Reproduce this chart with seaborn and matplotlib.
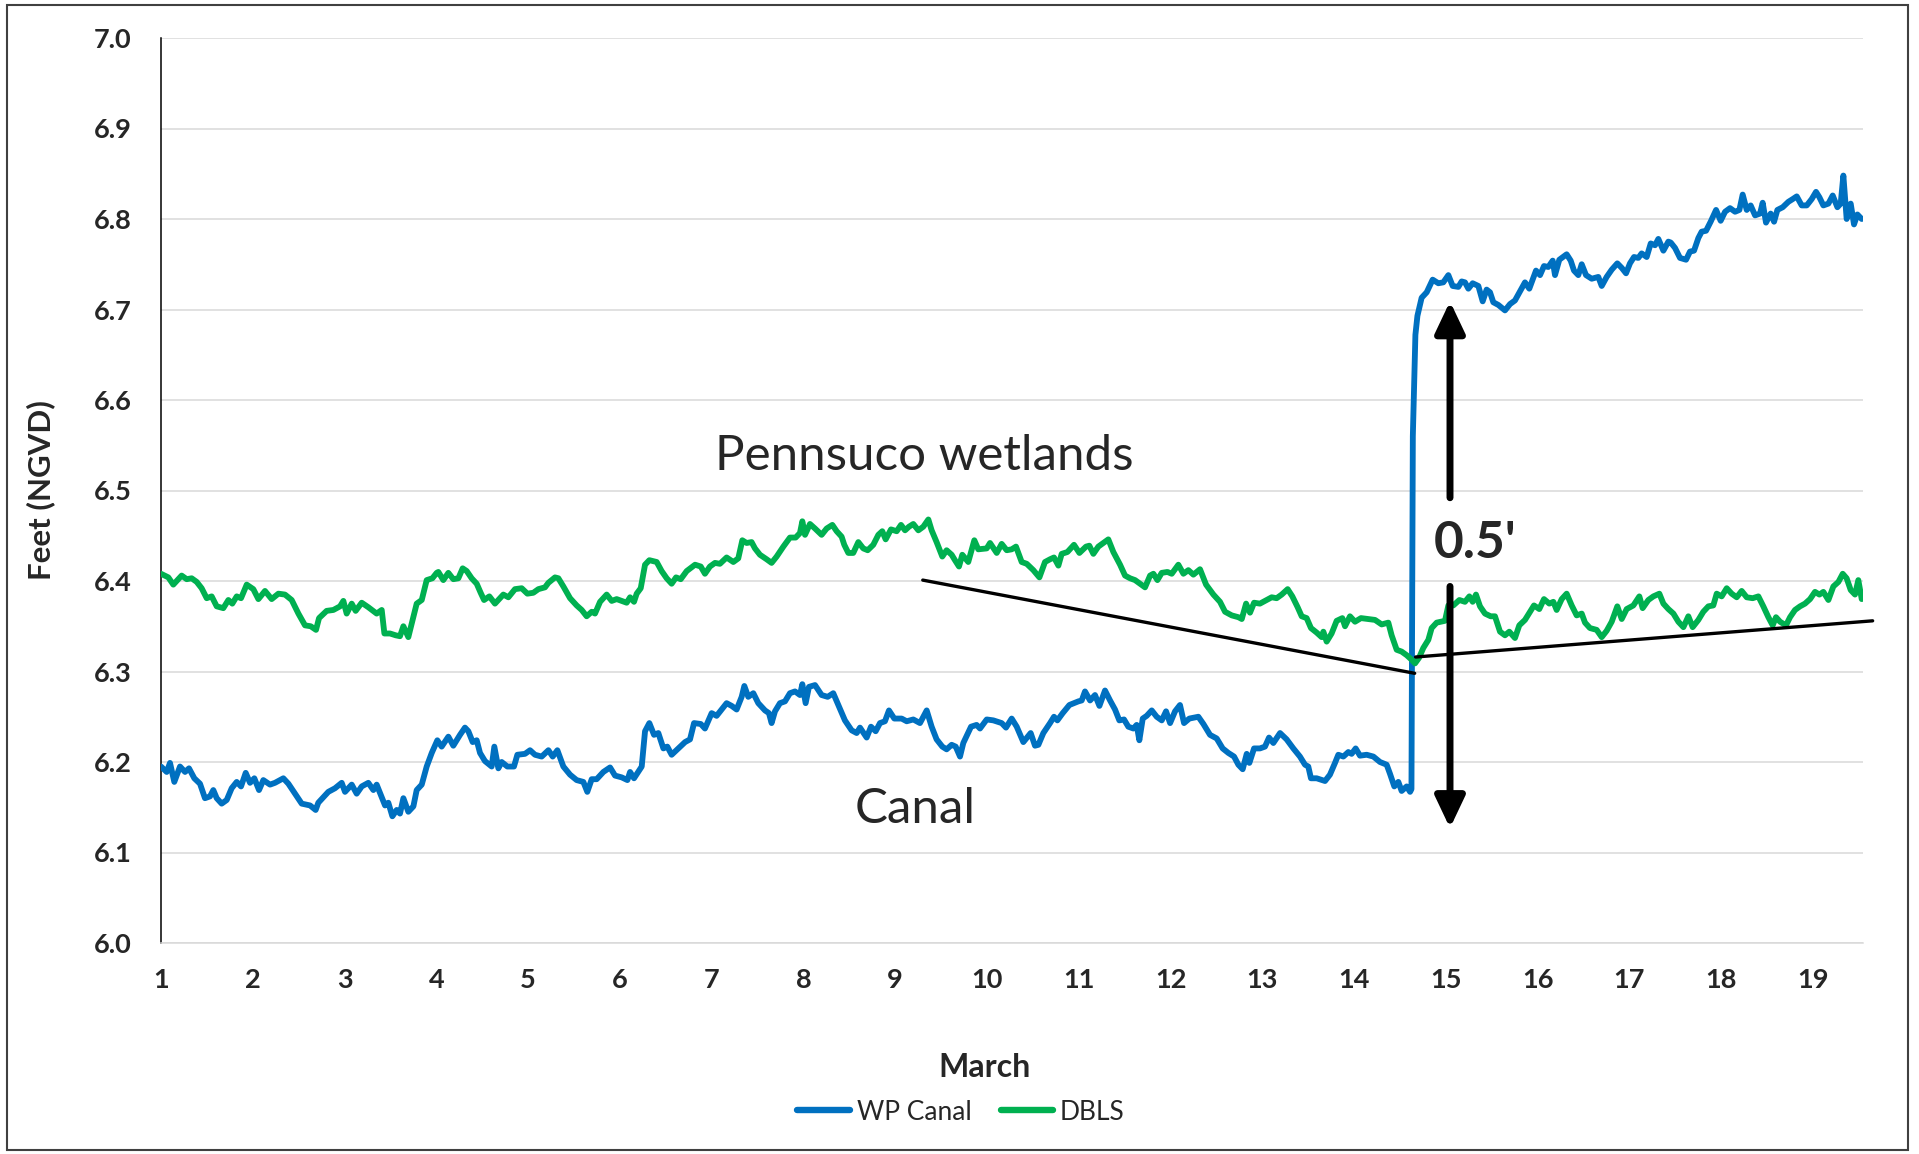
import matplotlib.pyplot as plt
import seaborn as sns
import pandas as pd
from matplotlib.patches import Rectangle

# WP Canal stage (ft NGVD)
canal_day = [1.000, 1.062, 1.098, 1.145, 1.207, 1.262, 1.305, 1.363, 1.425, 1.479, 1.534, 1.570, 1.607, 1.661,
             1.716, 1.770, 1.825, 1.872, 1.923, 1.970, 2.017, 2.068, 2.115, 2.188, 2.242, 2.333, 2.388, 2.460,
             2.533, 2.624, 2.685, 2.714, 2.823, 2.896, 2.969, 3.005, 3.078, 3.132, 3.187, 3.259, 3.314, 3.350,
             3.441, 3.477, 3.521, 3.568, 3.604, 3.641, 3.695, 3.750, 3.786, 3.841, 3.895, 3.950,
             4.011, 4.058, 4.131, 4.185, 4.258, 4.312, 4.349, 4.396, 4.440, 4.476, 4.530, 4.603, 4.632, 4.676,
             4.712, 4.774, 4.846, 4.883, 4.966, 5.021, 5.075, 5.148, 5.221, 5.268, 5.319, 5.384, 5.457, 5.529,
             5.602, 5.645, 5.693, 5.747, 5.820, 5.893, 5.947, 6.020, 6.082, 6.111, 6.154, 6.238, 6.274, 6.321,
             6.372, 6.419, 6.474, 6.517, 6.564, 6.637, 6.710, 6.764, 6.808, 6.881,
             6.927, 7.000, 7.054, 7.109, 7.163, 7.218, 7.272, 7.327, 7.356, 7.399, 7.454, 7.508, 7.581, 7.624,
             7.653, 7.690, 7.744, 7.799, 7.853, 7.908, 7.962, 7.988, 8.024, 8.060, 8.126, 8.198, 8.264, 8.325,
             8.380, 8.452, 8.525, 8.580, 8.616, 8.689, 8.736, 8.787, 8.834, 8.888, 8.932, 8.990, 9.070, 9.125,
             9.197, 9.270, 9.343, 9.397, 9.451, 9.513, 9.560, 9.615, 9.659, 9.706, 9.742, 9.826, 9.887,
             9.924, 9.997, 10.069, 10.160, 10.207, 10.269, 10.324, 10.396, 10.476, 10.523, 10.560, 10.614,
             10.687, 10.730, 10.767, 10.825, 10.898, 10.996, 11.032, 11.068, 11.123, 11.177, 11.225, 11.286,
             11.341, 11.395, 11.442, 11.493, 11.540, 11.595, 11.631, 11.660, 11.697, 11.740, 11.795, 11.849,
             11.904, 11.951, 11.995, 12.049, 12.103, 12.147, 12.205, 12.303, 12.358, 12.430, 12.503, 12.568,
             12.630, 12.692, 12.739, 12.786, 12.830, 12.859, 12.910,
             12.974, 13.029, 13.073, 13.120, 13.193, 13.265, 13.338, 13.410, 13.465, 13.501, 13.530, 13.592,
             13.683, 13.737, 13.792, 13.828, 13.883, 13.937, 13.973, 14.017, 14.064, 14.137, 14.210, 14.282,
             14.355, 14.391, 14.438, 14.482, 14.518, 14.573, 14.610, 14.625, 14.640, 14.668, 14.690, 14.736,
             14.791, 14.856, 14.918, 14.972, 15.027, 15.074, 15.136, 15.172, 15.208, 15.245, 15.292, 15.354,
             15.401, 15.444, 15.481, 15.517, 15.572, 15.644, 15.699, 15.753, 15.808, 15.862, 15.909, 15.953,
             15.982, 16.026, 16.069, 16.116, 16.164, 16.189, 16.236, 16.316, 16.360, 16.396, 16.443, 16.480,
             16.527, 16.589, 16.661, 16.698, 16.752, 16.807, 16.868, 16.916, 16.963, 17.006, 17.050, 17.097,
             17.133, 17.188, 17.232, 17.279, 17.315, 17.370, 17.424, 17.450, 17.497, 17.551, 17.617, 17.660,
             17.704, 17.751, 17.787, 17.835, 17.885, 17.944, 17.994, 18.042, 18.096, 18.151, 18.198, 18.234,
             18.278, 18.321, 18.369, 18.423, 18.452, 18.488, 18.539, 18.576, 18.612, 18.670, 18.732, 18.779,
             18.823, 18.877, 18.932, 18.986, 19.033, 19.070, 19.113, 19.168, 19.215, 19.266, 19.302, 19.331,
             19.367, 19.411, 19.447, 19.484, 19.531]
canal_ft = [6.195, 6.189, 6.199, 6.178, 6.195, 6.189, 6.193, 6.182, 6.176, 6.160, 6.162, 6.169, 6.160, 6.154,
            6.158, 6.171, 6.178, 6.173, 6.188, 6.177, 6.182, 6.169, 6.180, 6.175, 6.177, 6.182, 6.176, 6.165,
            6.154, 6.152, 6.147, 6.155, 6.167, 6.171, 6.177, 6.167, 6.175, 6.165, 6.173, 6.177, 6.169, 6.175,
            6.152, 6.155, 6.140, 6.147, 6.143, 6.160, 6.145, 6.151, 6.169, 6.175, 6.195, 6.210,
            6.224, 6.217, 6.228, 6.218, 6.230, 6.238, 6.234, 6.222, 6.224, 6.210, 6.201, 6.195, 6.217, 6.193,
            6.200, 6.195, 6.195, 6.208, 6.209, 6.213, 6.208, 6.206, 6.213, 6.206, 6.213, 6.195, 6.186, 6.180,
            6.178, 6.167, 6.181, 6.181, 6.189, 6.194, 6.185, 6.183, 6.180, 6.189, 6.182, 6.195, 6.234, 6.243,
            6.230, 6.232, 6.215, 6.217, 6.208, 6.215, 6.222, 6.225, 6.243, 6.242,
            6.237, 6.254, 6.251, 6.258, 6.265, 6.262, 6.258, 6.272, 6.284, 6.272, 6.276, 6.265, 6.257, 6.254,
            6.243, 6.256, 6.265, 6.267, 6.276, 6.278, 6.274, 6.286, 6.265, 6.283, 6.285, 6.274, 6.272, 6.276,
            6.263, 6.246, 6.235, 6.232, 6.238, 6.227, 6.239, 6.234, 6.243, 6.245, 6.257, 6.248, 6.248, 6.245,
            6.247, 6.243, 6.257, 6.239, 6.225, 6.217, 6.214, 6.219, 6.217, 6.206, 6.221, 6.239, 6.241,
            6.237, 6.247, 6.246, 6.243, 6.238, 6.248, 6.239, 6.222, 6.232, 6.218, 6.219, 6.232,
            6.243, 6.250, 6.246, 6.254, 6.263, 6.267, 6.268, 6.278, 6.268, 6.274, 6.262, 6.279,
            6.268, 6.258, 6.246, 6.247, 6.239, 6.237, 6.241, 6.224, 6.248, 6.251, 6.257, 6.250,
            6.246, 6.256, 6.243, 6.256, 6.263, 6.243, 6.248, 6.250, 6.242, 6.230, 6.226, 6.215,
            6.210, 6.206, 6.197, 6.192, 6.209, 6.199, 6.215,
            6.215, 6.217, 6.227, 6.221, 6.232, 6.225, 6.215, 6.206, 6.197, 6.195, 6.182, 6.182,
            6.179, 6.186, 6.199, 6.208, 6.206, 6.211, 6.209, 6.215, 6.207, 6.208, 6.206, 6.200,
            6.197, 6.187, 6.173, 6.178, 6.168, 6.173, 6.167, 6.170, 6.560, 6.672, 6.693, 6.713,
            6.719, 6.733, 6.729, 6.730, 6.738, 6.726, 6.725, 6.731, 6.730, 6.723, 6.729, 6.726,
            6.709, 6.722, 6.719, 6.708, 6.705, 6.699, 6.706, 6.710, 6.720, 6.730, 6.723, 6.735,
            6.743, 6.738, 6.748, 6.747, 6.754, 6.738, 6.755, 6.761, 6.754, 6.743, 6.738, 6.750,
            6.738, 6.734, 6.736, 6.726, 6.736, 6.744, 6.751, 6.746, 6.740, 6.751, 6.758, 6.757,
            6.762, 6.758, 6.773, 6.771, 6.778, 6.765, 6.775, 6.774, 6.768, 6.757, 6.755, 6.764,
            6.765, 6.779, 6.786, 6.787, 6.797, 6.810, 6.798, 6.808, 6.812, 6.808, 6.810, 6.827,
            6.810, 6.815, 6.804, 6.806, 6.818, 6.796, 6.806, 6.797, 6.810, 6.813, 6.819, 6.822,
            6.825, 6.815, 6.815, 6.822, 6.830, 6.824, 6.815, 6.817, 6.826, 6.813, 6.817, 6.848,
            6.800, 6.817, 6.794, 6.805, 6.800]

# DBLS (Pennsuco wetlands) stage
dbls_day = [1.000, 1.080, 1.134, 1.225, 1.280, 1.334, 1.389, 1.443, 1.498, 1.552, 1.607, 1.679, 1.734, 1.777,
            1.825, 1.872, 1.934, 2.006, 2.061, 2.133, 2.206, 2.279, 2.351, 2.424, 2.497, 2.569, 2.631, 2.689,
            2.722, 2.805, 2.878, 2.951, 2.987, 3.023, 3.078, 3.121, 3.187, 3.259, 3.350, 3.405, 3.434, 3.495,
            3.557, 3.604, 3.641, 3.695, 3.786, 3.841, 3.895, 3.957, 4.004,
            4.022, 4.076, 4.131, 4.185, 4.240, 4.287, 4.331, 4.385, 4.440, 4.483, 4.520, 4.578, 4.639, 4.694,
            4.730, 4.785, 4.857, 4.930, 4.992, 5.057, 5.112, 5.184, 5.221, 5.293, 5.330, 5.384, 5.457, 5.529,
            5.584, 5.638, 5.693, 5.729, 5.784, 5.856, 5.911, 5.965, 6.020, 6.074, 6.111, 6.154, 6.183, 6.227,
            6.274, 6.321, 6.401, 6.455, 6.510, 6.564, 6.612, 6.663, 6.728, 6.819, 6.881,
            6.927, 6.981, 7.036, 7.090, 7.163, 7.236, 7.290, 7.334, 7.381, 7.435, 7.472, 7.526, 7.599, 7.653,
            7.708, 7.781, 7.853, 7.915, 7.962, 7.988, 8.017, 8.071, 8.126, 8.198, 8.253, 8.315, 8.362, 8.416,
            8.445, 8.489, 8.543, 8.598, 8.652, 8.700, 8.761, 8.816, 8.859, 8.896, 8.954, 9.016, 9.063, 9.107,
            9.150, 9.197, 9.252, 9.306, 9.361, 9.397, 9.451, 9.513, 9.560, 9.615, 9.651, 9.695, 9.731, 9.796,
            9.862, 9.905,
            9.997, 10.033, 10.106, 10.160, 10.215, 10.269, 10.316, 10.378, 10.433, 10.505, 10.571, 10.632,
            10.687, 10.730, 10.778, 10.814, 10.876, 10.948, 11.007, 11.079, 11.115, 11.159, 11.213, 11.268,
            11.322, 11.377, 11.450, 11.504, 11.559, 11.613, 11.668, 11.722, 11.777, 11.813, 11.857, 11.904,
            11.966, 12.013, 12.085, 12.140, 12.194, 12.249, 12.321, 12.387, 12.467, 12.539, 12.594, 12.667,
            12.739, 12.776, 12.823, 12.866, 12.910,
            12.974, 13.047, 13.102, 13.156, 13.211, 13.276, 13.327, 13.385, 13.429, 13.483, 13.530, 13.592,
            13.646, 13.665, 13.701, 13.755, 13.810, 13.872, 13.901, 13.955, 14.010, 14.075, 14.155, 14.228,
            14.300, 14.373, 14.409, 14.464, 14.518, 14.573, 14.627, 14.664, 14.707, 14.754, 14.809, 14.845,
            14.900, 14.990,
            15.027, 15.081, 15.147, 15.208, 15.256, 15.292, 15.328, 15.372, 15.426, 15.488, 15.535, 15.590,
            15.644, 15.691, 15.753, 15.800, 15.862, 15.917, 15.960, 16.018, 16.069, 16.127, 16.171, 16.207,
            16.262, 16.316, 16.371, 16.425, 16.480, 16.516, 16.570, 16.643, 16.698, 16.752, 16.807, 16.868,
            16.916, 16.970, 17.043, 17.108, 17.144, 17.206, 17.261, 17.326, 17.370, 17.424, 17.479, 17.533,
            17.588, 17.642, 17.689, 17.751, 17.805, 17.860, 17.914, 17.951, 18.005, 18.060, 18.114, 18.169,
            18.223, 18.278, 18.343, 18.405, 18.459, 18.514, 18.561, 18.597, 18.641, 18.706, 18.750, 18.804,
            18.859, 18.913, 18.968, 19.022, 19.070, 19.113, 19.168, 19.222, 19.277, 19.324, 19.367, 19.411,
            19.458, 19.494, 19.531]
dbls_ft = [6.408, 6.404, 6.396, 6.406, 6.402, 6.403, 6.399, 6.392, 6.381, 6.383, 6.372, 6.370, 6.379, 6.375,
           6.383, 6.381, 6.396, 6.391, 6.380, 6.389, 6.380, 6.386, 6.385, 6.379, 6.364, 6.351, 6.350, 6.346,
           6.359, 6.367, 6.368, 6.372, 6.378, 6.364, 6.375, 6.367, 6.376, 6.371, 6.364, 6.368, 6.342, 6.342,
           6.340, 6.339, 6.350, 6.338, 6.375, 6.379, 6.401, 6.403, 6.409,
           6.410, 6.401, 6.409, 6.402, 6.403, 6.414, 6.411, 6.403, 6.397, 6.387, 6.379, 6.383, 6.375, 6.381,
           6.385, 6.382, 6.391, 6.392, 6.386, 6.387, 6.391, 6.393, 6.398, 6.404, 6.403, 6.394, 6.381, 6.373,
           6.368, 6.361, 6.366, 6.364, 6.377, 6.385, 6.378, 6.380, 6.378, 6.376, 6.382, 6.377, 6.386, 6.392,
           6.418, 6.423, 6.421, 6.411, 6.403, 6.397, 6.404, 6.402, 6.411, 6.418, 6.416,
           6.408, 6.416, 6.420, 6.419, 6.426, 6.421, 6.425, 6.445, 6.442, 6.443, 6.436, 6.429, 6.424, 6.420,
           6.427, 6.438, 6.448, 6.448, 6.453, 6.466, 6.451, 6.463, 6.458, 6.451, 6.458, 6.462, 6.455, 6.449,
           6.440, 6.431, 6.431, 6.443, 6.436, 6.434, 6.440, 6.451, 6.455, 6.446, 6.457, 6.455, 6.462, 6.456,
           6.460, 6.463, 6.456, 6.460, 6.468, 6.456, 6.443, 6.427, 6.434, 6.429, 6.423, 6.416, 6.429, 6.421,
           6.445, 6.435,
           6.436, 6.442, 6.431, 6.441, 6.434, 6.435, 6.438, 6.421, 6.419, 6.412, 6.404, 6.421,
           6.424, 6.426, 6.417, 6.430, 6.432, 6.440, 6.431, 6.438, 6.439, 6.430, 6.438, 6.442,
           6.446, 6.432, 6.418, 6.406, 6.403, 6.401, 6.397, 6.393, 6.406, 6.408, 6.401, 6.409,
           6.410, 6.408, 6.418, 6.408, 6.412, 6.407, 6.413, 6.396, 6.385, 6.377, 6.366, 6.362,
           6.360, 6.358, 6.375, 6.365, 6.376,
           6.375, 6.379, 6.382, 6.381, 6.385, 6.391, 6.383, 6.371, 6.361, 6.359, 6.348, 6.343,
           6.338, 6.344, 6.333, 6.342, 6.356, 6.359, 6.350, 6.361, 6.355, 6.359, 6.358, 6.357,
           6.352, 6.354, 6.340, 6.324, 6.322, 6.318, 6.313, 6.309, 6.315, 6.326, 6.335, 6.348,
           6.354, 6.356,
           6.373, 6.373, 6.379, 6.377, 6.383, 6.377, 6.385, 6.372, 6.364, 6.361, 6.361, 6.344,
           6.340, 6.344, 6.337, 6.351, 6.357, 6.366, 6.373, 6.369, 6.380, 6.375, 6.377, 6.368,
           6.380, 6.386, 6.373, 6.362, 6.364, 6.354, 6.348, 6.346, 6.338, 6.345, 6.355, 6.372,
           6.358, 6.369, 6.373, 6.383, 6.370, 6.379, 6.383, 6.386, 6.375, 6.369, 6.364, 6.355,
           6.349, 6.361, 6.349, 6.357, 6.366, 6.372, 6.373, 6.386, 6.383, 6.392, 6.386, 6.382,
           6.389, 6.382, 6.381, 6.383, 6.372, 6.360, 6.351, 6.360, 6.355, 6.351, 6.360, 6.368,
           6.372, 6.375, 6.380, 6.388, 6.385, 6.388, 6.379, 6.394, 6.399, 6.408, 6.403, 6.390,
           6.385, 6.401, 6.380]

series_names = ["WP Canal", "DBLS"]
series_colors = ["#0070C0", "#00B050"]
x_ticks = list(range(1, 20))
y_ticks = [6.0, 6.1, 6.2, 6.3, 6.4, 6.5, 6.6, 6.7, 6.8, 6.9, 7.0]

# annotation geometry (day, ft)
recession_day = [9.30, 14.66]
recession_ft = [6.401, 6.298]
recovery_day = [14.67, 19.65]
recovery_ft = [6.316, 6.356]
arrow_day = 15.045
arrow_up_ft = [6.492, 6.709]
arrow_down_ft = [6.394, 6.127]

df = pd.concat([
    pd.DataFrame({"day": canal_day, "ft": canal_ft, "series": series_names[0]}),
    pd.DataFrame({"day": dbls_day, "ft": dbls_ft, "series": series_names[1]}),
])

sns.set_style("white")
plt.rcParams["font.family"] = ["Lato", "DejaVu Sans"]

fig = plt.figure(figsize=(19.19, 11.54), dpi=100)
ax = fig.add_axes([161 / 1919, 1 - 943 / 1154, 1702 / 1919, 905 / 1154])

sns.lineplot(data=df, x="day", y="ft", hue="series", palette=series_colors,
             estimator=None, sort=False, linewidth=4.2, ax=ax, zorder=3)

ax.set_xlim(1, 19.545)
ax.set_ylim(6.0, 7.0)
ax.set_xticks(x_ticks)
ax.set_yticks(y_ticks)
ax.set_yticklabels([f"{v:.1f}" for v in y_ticks])
ax.grid(axis="y", color="#D9D9D9", lw=1.1)
ax.set_axisbelow(True)

for side in ["top", "right"]:
    ax.spines[side].set_visible(False)
ax.spines["left"].set_color("black")
ax.spines["left"].set_linewidth(1.1)
ax.spines["bottom"].set_color("#D9D9D9")
ax.spines["bottom"].set_linewidth(1.1)

ax.tick_params(axis="y", direction="in", length=6.5, width=1.1, color="black",
               pad=21, labelsize=19.5)
ax.tick_params(axis="x", direction="out", length=6, width=1.1, color="#D9D9D9",
               pad=12, labelsize=19.5)
for lab in ax.get_xticklabels() + ax.get_yticklabels():
    lab.set_fontweight("bold")

ax.set_xlabel("March", fontsize=23, fontweight="bold")
ax.set_ylabel("Feet (NGVD)", fontsize=22.5, fontweight="bold")
ax.xaxis.set_label_coords(0.484, -0.122)
ax.yaxis.set_label_coords(-0.062, 0.5)

# trend lines and 0.5' arrow
ax.plot(recession_day, recession_ft, color="black", lw=2.4, zorder=4)
ax.plot(recovery_day, recovery_ft, color="black", lw=2.4, zorder=4, clip_on=False)
for ft in [arrow_up_ft, arrow_down_ft]:
    ax.annotate("", xy=(arrow_day, ft[1]), xytext=(arrow_day, ft[0]),
                arrowprops=dict(arrowstyle="-|>,head_length=0.95,head_width=0.45", lw=5,
                                color="black", shrinkA=0, shrinkB=0, mutation_scale=20))

ax.text(15.32, 6.4254, "0.5'", fontsize=37, fontweight="bold", ha="center", va="baseline")
ax.text(9.313, 6.5227, "Pennsuco wetlands", fontsize=35.5, ha="center", va="baseline")
ax.text(9.215, 6.1326, "Canal", fontsize=35.5, ha="center", va="baseline")

handles, labels = ax.get_legend_handles_labels()
ax.get_legend().remove()
for h in handles:
    h.set_linewidth(4.6)
    h.set_solid_capstyle("round")
fig.legend(handles, labels, loc="center", bbox_to_anchor=(961 / 1919, 1 - 1112 / 1154), ncol=2,
           frameon=False, fontsize=19, handlelength=2.0, handletextpad=0.25, columnspacing=1.1)

fig.patches.append(Rectangle((7 / 1919, 4 / 1154), 1901 / 1919, 1145 / 1154, transform=fig.transFigure,
                             fill=False, edgecolor="#404040", lw=1.5))

fig.savefig("out.png", dpi=100)
plt.close(fig)
